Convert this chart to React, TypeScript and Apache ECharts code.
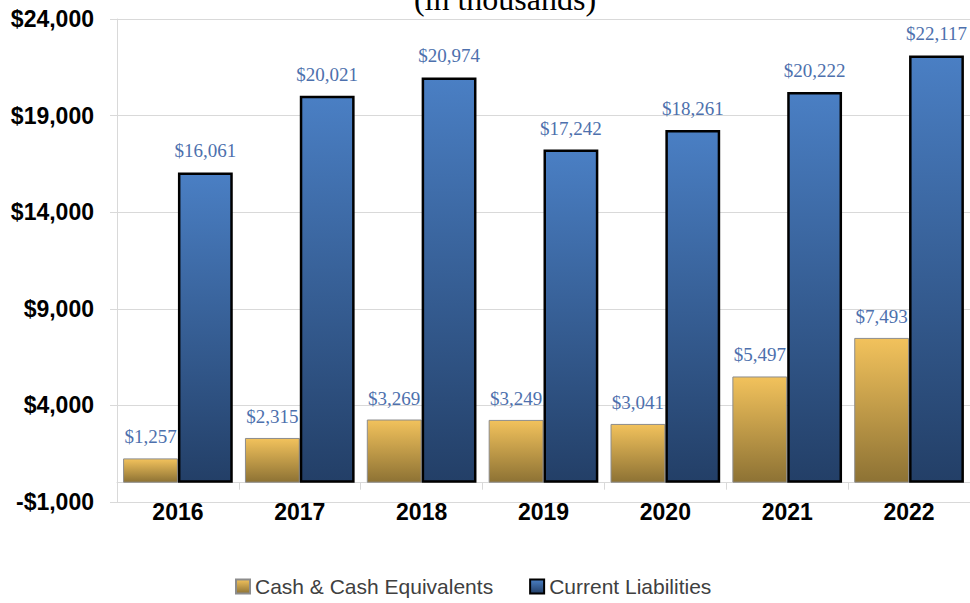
import React, { useEffect, useRef } from "react";
import * as echarts from "echarts";

const years = ["2016", "2017", "2018", "2019", "2020", "2021", "2022"];
const cashValues = [1257, 2315, 3269, 3249, 3041, 5497, 7493];
const liabilityValues = [16061, 20021, 20974, 17242, 18261, 20222, 22117];
const seriesNames = ["Cash & Cash Equivalents", "Current Liabilities"];
const titleText = "(in thousands)";

const money = (v: number) =>
  (v < 0 ? "-$" : "$") + Math.abs(v).toLocaleString("en-US");

export default function App() {
  const ref = useRef<HTMLDivElement>(null);
  useEffect(() => {
    document.body.style.margin = "0";
    if (!ref.current) return;
    const chart = echarts.init(ref.current, null, { renderer: "svg" });
    const goldGrad = new echarts.graphic.LinearGradient(0, 0, 0, 1, [
      { offset: 0, color: "#f2c25c" },
      { offset: 1, color: "#8d7234" },
    ]);
    const blueGrad = new echarts.graphic.LinearGradient(0, 0, 0, 1, [
      { offset: 0, color: "#4a7fc4" },
      { offset: 1, color: "#233f67" },
    ]);
    const labelStyle = {
      show: true,
      position: "top" as const,
      distance: 12,
      fontFamily: "Liberation Serif",
      fontSize: 19,
      color: "#4d70ad",
      formatter: (p: any) => money(p.value),
    };
    chart.setOption({
      animation: false,
      backgroundColor: "#ffffff",
      title: {
        text: titleText,
        left: 500,
        textAlign: "center",
        top: -22,
        textStyle: {
          fontFamily: "Liberation Serif",
          fontSize: 32,
          fontWeight: "normal",
          color: "#000000",
        },
      },
      grid: { left: 117, right: -2, top: 19, bottom: 101, containLabel: false },
      legend: {
        left: 230,
        top: 571,
        icon: "rect",
        itemWidth: 14,
        itemHeight: 14,
        itemGap: 36,
        textStyle: {
          fontFamily: "Liberation Sans",
          fontSize: 21,
          color: "#404040",
        },
        data: seriesNames,
      },
      xAxis: {
        type: "category",
        data: years,
        axisLine: { show: true, onZero: true, lineStyle: { color: "#d9d9d9", width: 1 } },
        axisTick: { show: true, length: 7, lineStyle: { color: "#d9d9d9" } },
        axisLabel: {
          margin: -2,
          fontFamily: "Liberation Sans",
          fontWeight: "bold",
          fontSize: 23,
          color: "#000000",
        },
      },
      yAxis: {
        type: "value",
        min: -1000,
        max: 24000,
        interval: 5000,
        axisLine: { show: true, lineStyle: { color: "#d9d9d9" } },
        axisTick: { show: true, length: 7, lineStyle: { color: "#d9d9d9" } },
        splitLine: { show: true, lineStyle: { color: "#d9d9d9" } },
        axisLabel: {
          margin: 23,
          fontFamily: "Liberation Sans",
          fontWeight: "bold",
          fontSize: 23,
          color: "#000000",
          formatter: (v: number) => money(v),
        },
      },
      series: [
        {
          name: seriesNames[0],
          type: "bar",
          data: cashValues,
          barGap: "0%",
          barCategoryGap: "10%",
          z: 2,
          itemStyle: { color: goldGrad, borderColor: "#8c8c8c", borderWidth: 1 },
          label: labelStyle,
        },
        {
          name: seriesNames[1],
          type: "bar",
          data: liabilityValues,
          barGap: "0%",
          barCategoryGap: "10%",
          z: 3,
          itemStyle: { color: blueGrad, borderColor: "#000000", borderWidth: 2.5 },
          label: labelStyle,
        },
      ],
    });
    return () => chart.dispose();
  }, []);
  return <div ref={ref} style={{ width: 970, height: 603 }} />;
}
